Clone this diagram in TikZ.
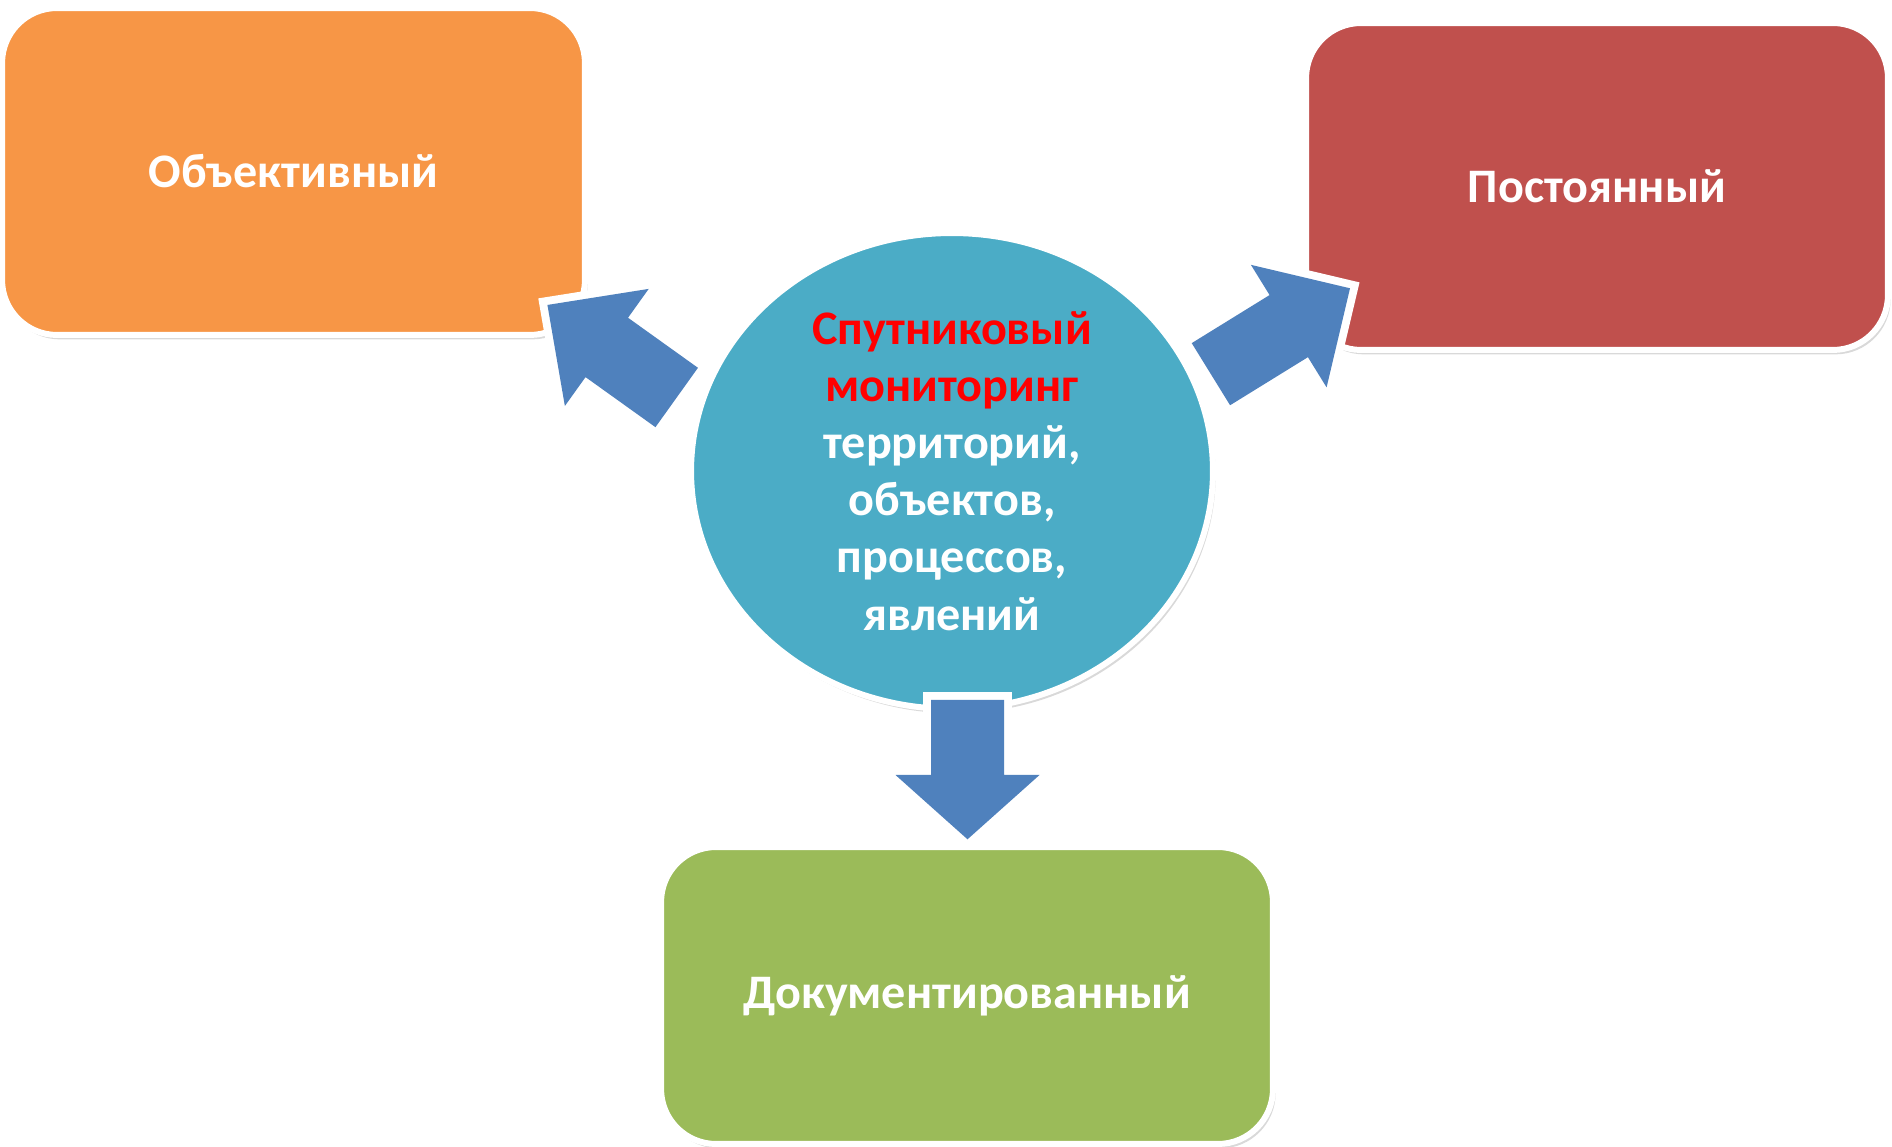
\documentclass[tikz,border=0pt]{standalone}
\usepackage{fontspec}
\setmainfont{Carlito}
\usepackage{tikz}
\usetikzlibrary{positioning,shapes.geometric,shadows}
\definecolor{msorange}{HTML}{F79646}
\definecolor{msred}{HTML}{C0504D}
\definecolor{msgreen}{HTML}{9BBB59}
\definecolor{msteal}{HTML}{4BACC6}
\definecolor{msblue}{HTML}{4F81BD}
\definecolor{hotred}{HTML}{FF0000}

\begin{document}
\begin{tikzpicture}[
  x=0.02cm,y=0.02cm,
  every node/.style={font=\bfseries\fontsize{27.4}{32.5}\selectfont,text=white},
  tilenode/.style={rectangle,rounded corners=1.1cm,draw=white,line width=3.4pt,inner sep=0pt,
    minimum height=6.54cm,align=center,
    drop shadow={opacity=0.3,shadow xshift=1.5pt,shadow yshift=-2.5pt}},
  corenode/.style={ellipse,draw=white,line width=3.4pt,inner sep=0pt,fill=msteal,
    minimum width=10.44cm,minimum height=9.52cm,align=center,
    drop shadow={opacity=0.3,shadow xshift=1.5pt,shadow yshift=-2.5pt}},
  pics/blockarr/.style 2 args={code={
    % white rim first, then the blue body on top
    \path[draw=white,fill=white,line width=9pt,line join=miter,
      drop shadow={opacity=0.35,shadow xshift=1.2pt,shadow yshift=-1.2pt}]
      (0,-36.5) -- (#1-#2,-36.5) -- (#1-#2,-72) -- (#1,0)
      -- (#1-#2,72) -- (#1-#2,36.5) -- (0,36.5) -- cycle;
    \fill[msblue]
      (0,-36.5) -- (#1-#2,-36.5) -- (#1-#2,-72) -- (#1,0)
      -- (#1-#2,72) -- (#1-#2,36.5) -- (0,36.5) -- cycle;
  }}
]
\useasboundingbox (0,0) rectangle (1892,1146);
% boxes
\node[tilenode,fill=msorange,minimum width=11.66cm] (obj) at (293.5,974.5) {Объективный};
\node[tilenode,fill=msred,minimum width=11.64cm] (perm) at (1597,959.5) {Постоянный};
\node[tilenode,fill=msgreen,minimum width=12.24cm,minimum height=5.94cm] (doc) at (967,150.5) {Документированный};
% centre
\node[corenode] (core) at (952,675) {\textcolor{hotred}{Спутниковый}\\
  \textcolor{hotred}{мониторинг}\\территорий,\\объектов,\\процессов,\\явлений};
% arrows
\coordinate (toobj) at (676.7,748.5);
\coordinate (toperm) at (1210.9,771.8);
\coordinate (todoc) at (967.5,446);
\pic[rotate=144.4] at (toobj) {blockarr={159}{73}};
\pic[rotate=31.7] at (toperm) {blockarr={163.5}{72}};
\pic[rotate=-90] at (todoc) {blockarr={139.3}{64.3}};
\end{tikzpicture}
\end{document}
